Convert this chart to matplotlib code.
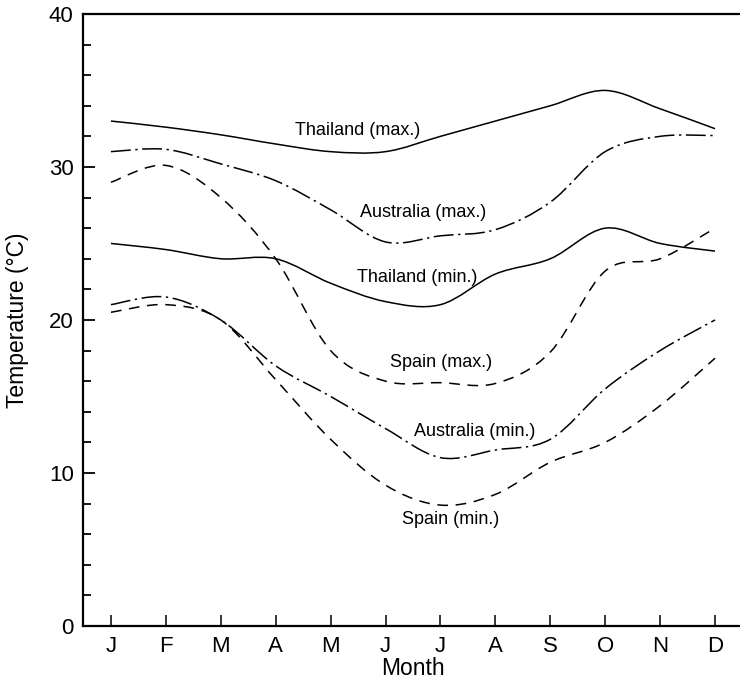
import numpy as np
import matplotlib
matplotlib.use("Agg")
import matplotlib.pyplot as plt
from matplotlib.path import Path
from matplotlib.patches import PathPatch
from matplotlib.ticker import MultipleLocator

plt.rcParams['font.family'] = ['Liberation Sans', 'DejaVu Sans']

# monthly temperatures (deg C)
months = ['J', 'F', 'M', 'A', 'M', 'J', 'J', 'A', 'S', 'O', 'N', 'D']
thailand_max = [33.0, 32.6, 32.1, 31.5, 31.0, 31.0, 32.0, 33.0, 34.0, 35.0, 33.8, 32.5]
australia_max = [31.0, 31.15, 30.2, 29.1, 27.2, 25.1, 25.5, 25.9, 27.7, 31.0, 32.0, 32.05]
thailand_min = [25.0, 24.6, 24.0, 24.0, 22.4, 21.2, 21.0, 23.0, 24.0, 26.0, 25.0, 24.5]
spain_max = [29.0, 30.1, 28.0, 24.0, 18.0, 16.0, 15.9, 15.85, 17.9, 23.2, 24.0, 26.0]
australia_min = [21.0, 21.5, 20.0, 17.0, 15.0, 12.9, 11.0, 11.5, 12.2, 15.5, 18.0, 20.0]
spain_min = [20.5, 21.0, 20.0, 16.1, 12.2, 9.2, 7.9, 8.6, 10.7, 12.0, 14.4, 17.5]

series = [
    ('Thailand (max.)', thailand_max, '-'),
    ('Australia (max.)', australia_max, (0, (13, 3, 1.5, 3))),
    ('Thailand (min.)', thailand_min, '-'),
    ('Spain (max.)', spain_max, (0, (7, 5))),
    ('Australia (min.)', australia_min, (0, (13, 3, 1.5, 3))),
    ('Spain (min.)', spain_min, (0, (7, 5))),
]

# where each curve label sits (month, temperature)
label_pos = {
    'Thailand (max.)': (5.49, 32.4),
    'Australia (max.)': (6.69, 27.0),
    'Thailand (min.)': (6.58, 22.8),
    'Spain (max.)': (7.02, 17.25),
    'Australia (min.)': (7.62, 12.7),
    'Spain (min.)': (7.19, 6.93),
}


def smooth_path(x, y):
    # Catmull-Rom curve through the points, drawn as cubic Bezier segments
    pts = np.column_stack([x, y])
    ext = np.vstack([pts[0], pts, pts[-1]])
    verts = [pts[0]]
    codes = [Path.MOVETO]
    for i in range(1, len(ext) - 2):
        p0, p1, p2, p3 = ext[i - 1], ext[i], ext[i + 1], ext[i + 2]
        verts += [p1 + (p2 - p0) / 6, p2 - (p3 - p1) / 6, p2]
        codes += [Path.CURVE4] * 3
    return Path(verts, codes)


fig = plt.figure(figsize=(7.4, 6.9), dpi=100)
ax = fig.add_axes([0.1128, 0.0928, 0.8906, 0.887])

x = np.arange(1, len(months) + 1)
for name, vals, ls in series:
    patch = PathPatch(smooth_path(x, vals), fill=False, lw=1.1, ls=ls,
                      edgecolor='black', capstyle='butt')
    ax.add_patch(patch)
    lx, ly = label_pos[name]
    ax.text(lx, ly, name, ha='center', va='center', fontsize=13)

ax.set_xlim(0.5, 12.5)
ax.set_ylim(0, 40)
ax.set_xticks(x)
ax.set_xticklabels(months)
ax.yaxis.set_major_locator(MultipleLocator(10))
ax.yaxis.set_minor_locator(MultipleLocator(2))
ax.tick_params(axis='y', which='major', direction='in', length=8.5, width=1.3,
               labelsize=16, pad=7)
ax.tick_params(axis='y', which='minor', direction='in', length=5.5, width=1.3)
ax.tick_params(axis='x', which='major', direction='in', length=8, width=1.1,
               labelsize=16, pad=7)
for side in ['left', 'bottom', 'top']:
    ax.spines[side].set_linewidth(1.6)
ax.spines['right'].set_visible(False)

ax.set_xlabel('Month', fontsize=16.5, labelpad=0)
ax.set_ylabel('Temperature (°C)', fontsize=16.5, labelpad=14)

fig.savefig('out.png', dpi=100)
